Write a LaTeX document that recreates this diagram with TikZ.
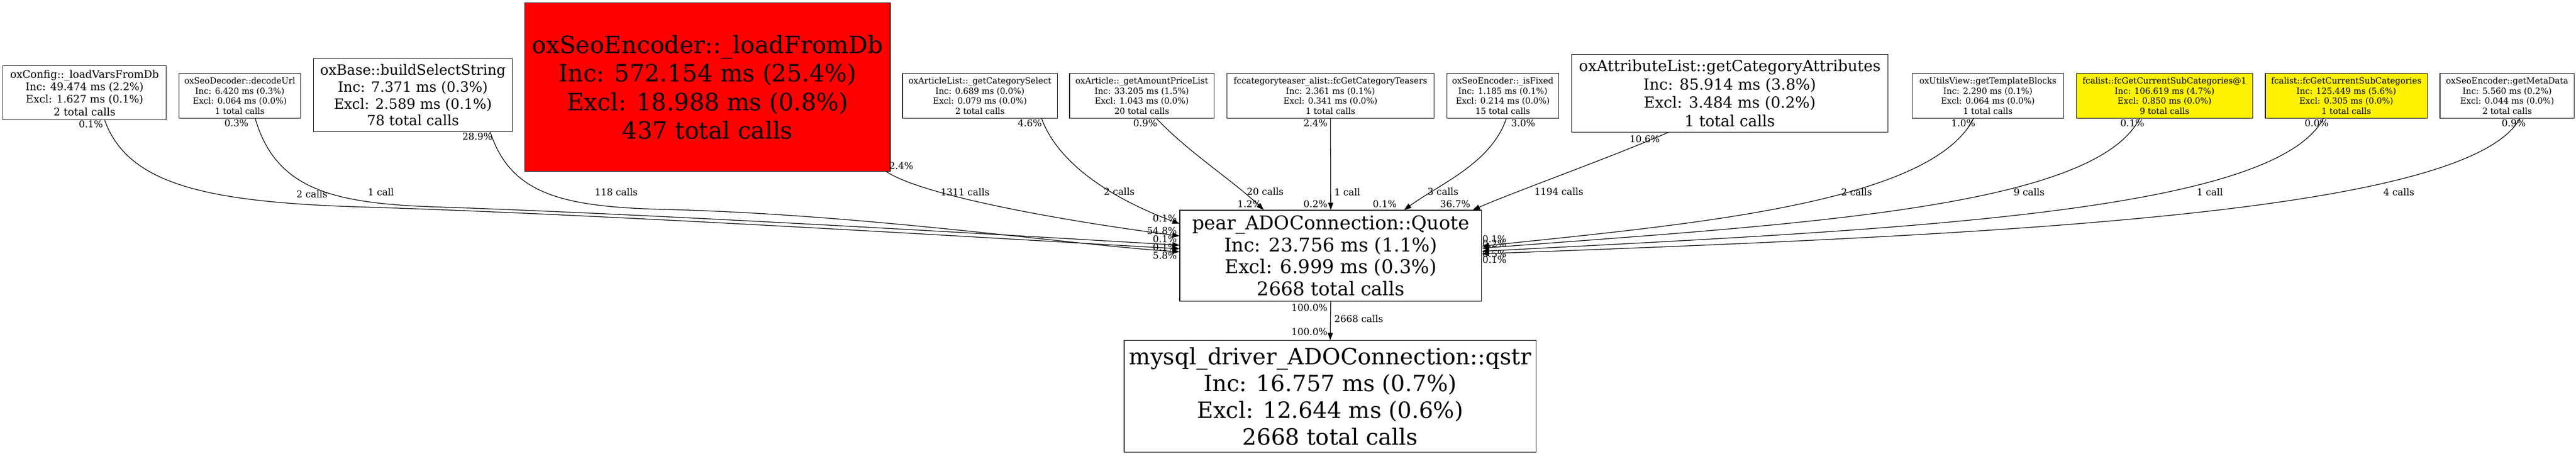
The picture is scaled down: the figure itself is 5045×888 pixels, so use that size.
\documentclass[tikz,border=0pt]{standalone}
\usepackage{fontspec}
\setmainfont{DejaVu Serif}
\usetikzlibrary{arrows.meta,calc}
\begin{document}
\begin{tikzpicture}[x=1pt,y=-1pt,
 box/.style={draw=black,line width=1.3pt,inner sep=0pt,align=center,anchor=north west},
 sm/.style={box,minimum height=88pt,font=\fontsize{16.4}{19.7}\selectfont},
 lab/.style={inner sep=0pt,font=\fontsize{18.5}{22}\selectfont},
 conn/.style={line width=1.3pt,-{Triangle[length=14pt,width=10pt]}}]
\fill[white] (0,0) rectangle (5045,888);
\useasboundingbox (0,0) rectangle (5045,888);
% nodes
\node[box,minimum width=320pt,minimum height=106pt,font=\fontsize{20.5}{24.6}\selectfont] (cfg) at (5,128) {oxConfig::\_loadVarsFromDb\\Inc: 49.474 ms (2.2\%)\\Excl: 1.627 ms (0.1\%)\\2 total calls};
\node[sm,minimum width=238pt] (dec) at (350,143) {oxSeoDecoder::decodeUrl\\Inc: 6.420 ms (0.3\%)\\Excl: 0.064 ms (0.0\%)\\1 total calls};
\node[box,minimum width=390pt,minimum height=143pt,font=\fontsize{27.6}{33}\selectfont] (base) at (613,114) {oxBase::buildSelectString\\Inc: 7.371 ms (0.3\%)\\Excl: 2.589 ms (0.1\%)\\78 total calls};
\node[box,fill=red,minimum width=716pt,minimum height=330pt,font=\fontsize{46.5}{56}\selectfont] (red) at (1027,5) {oxSeoEncoder::\_loadFromDb\\Inc: 572.154 ms (25.4\%)\\Excl: 18.988 ms (0.8\%)\\437 total calls};
\node[sm,minimum width=303pt] (artl) at (1767,143) {oxArticleList::\_getCategorySelect\\Inc: 0.689 ms (0.0\%)\\Excl: 0.079 ms (0.0\%)\\2 total calls};
\node[sm,minimum width=283pt] (art) at (2094,143) {oxArticle::\_getAmountPriceList\\Inc: 33.205 ms (1.5\%)\\Excl: 1.043 ms (0.0\%)\\20 total calls};
\node[sm,minimum width=406pt] (fcc) at (2402,143) {fccategoryteaser\_alist::fcGetCategoryTeasers\\Inc: 2.361 ms (0.1\%)\\Excl: 0.341 ms (0.0\%)\\1 total calls};
\node[sm,minimum width=219pt] (fix) at (2833,143) {oxSeoEncoder::\_isFixed\\Inc: 1.185 ms (0.1\%)\\Excl: 0.214 ms (0.0\%)\\15 total calls};
\node[box,minimum width=620pt,minimum height=152pt,font=\fontsize{30}{36}\selectfont] (attr) at (3077,106) {oxAttributeList::getCategoryAttributes\\Inc: 85.914 ms (3.8\%)\\Excl: 3.484 ms (0.2\%)\\1 total calls};
\node[sm,minimum width=297pt] (uv) at (3744,143) {oxUtilsView::getTemplateBlocks\\Inc: 2.290 ms (0.1\%)\\Excl: 0.064 ms (0.0\%)\\1 total calls};
\node[sm,fill=yellow,minimum width=345pt] (fc1) at (4066,143) {fcalist::fcGetCurrentSubCategories@1\\Inc: 106.619 ms (4.7\%)\\Excl: 0.850 ms (0.0\%)\\9 total calls};
\node[sm,fill=yellow,minimum width=317pt] (fc) at (4436,143) {fcalist::fcGetCurrentSubCategories\\Inc: 125.449 ms (5.6\%)\\Excl: 0.305 ms (0.0\%)\\1 total calls};
\node[sm,minimum width=263pt] (meta) at (4778,143) {oxSeoEncoder::getMetaData\\Inc: 5.560 ms (0.2\%)\\Excl: 0.044 ms (0.0\%)\\2 total calls};
\node[box,minimum width=591pt,minimum height=178pt,font=\fontsize{37}{43}\selectfont] (quote) at (2310,411) {pear\_ADOConnection::Quote\\Inc: 23.756 ms (1.1\%)\\Excl: 6.999 ms (0.3\%)\\2668 total calls};
\node[box,minimum width=807pt,minimum height=219pt,font=\fontsize{44}{52.7}\selectfont] (mysql) at (2201,666) {mysql\_driver\_ADOConnection::qstr\\Inc: 16.757 ms (0.7\%)\\Excl: 12.644 ms (0.6\%)\\2668 total calls};
% connectors
\draw[conn] ($(cfg.south west)+(200,0)$) .. controls (250,360) and (400,395) .. (700,405) .. controls (1200,420) and (2000,470) .. ($(quote.north west)+(0,76)$);
\draw[conn] ($(dec.south west)+(150,0)$) .. controls (540,370) and (650,398) .. (850,405) .. controls (1300,420) and (2000,462) .. ($(quote.north west)+(0,69)$);
\draw[conn] ($(base.south west)+(347,0)$) .. controls (1000,380) and (1100,405) .. (1300,410) .. controls (1700,420) and (2100,480) .. ($(quote.north west)+(0,82)$);
\draw[conn] ($(red.south east)+(-8,0)$) .. controls (1810,385) and (2100,435) .. ($(quote.north west)+(0,51)$);
\draw[conn] ($(artl.south west)+(273,0)$) .. controls (2080,340) and (2220,405) .. ($(quote.north west)+(0,27)$);
\draw[conn] ($(art.south west)+(171,0)$) .. controls (2330,300) and (2410,350) .. ($(quote.north west)+(165,0)$);
\draw[conn] (fcc.south) -- (quote.north);
\draw[conn] ($(fix.south west)+(117,0)$) .. controls (2920,320) and (2820,360) .. ($(quote.north west)+(440,0)$);
\draw[conn] ($(attr.south west)+(190,0)$) .. controls (3150,310) and (2980,370) .. ($(quote.north east)+(-18,0)$);
\draw[conn] ($(uv.south west)+(121,0)$) .. controls (3780,400) and (3300,440) .. ($(quote.north east)+(0,71)$);
\draw[conn] ($(fc1.south west)+(124,0)$) .. controls (4100,410) and (3500,440) .. ($(quote.north east)+(0,75)$);
\draw[conn] ($(fc.south west)+(114,0)$) .. controls (4450,420) and (3700,450) .. ($(quote.north east)+(0,81)$);
\draw[conn] ($(meta.south west)+(157,0)$) .. controls (4830,420) and (3900,460) .. ($(quote.north east)+(0,86)$);
\draw[conn] (quote.south) -- (mysql.north);
% tail labels
\node[lab] (t1) at (178,243) {0.1\%};
\node[lab] (t2) at (463,241) {0.3\%};
\node[lab] (t3) at (935,267) {28.9\%};
\node[lab] (t4) at (1765,325) {2.4\%};
\node[lab] (t5) at (2017,241) {4.6\%};
\node[lab] (t6) at (2243,241) {0.9\%};
\node[lab,anchor=east] (t7) at (2600,241) {2.4\%};
\node[lab] (t8) at (2983,241) {3.0\%};
\node[lab] (t9) at (3221,272) {10.6\%};
\node[lab] (t10) at (3845,241) {1.0\%};
\node[lab] (t11) at (4176,241) {0.1\%};
\node[lab] (t12) at (4537,241) {0.0\%};
\node[lab] (t13) at (4923,241) {0.9\%};
\node[lab,anchor=east] (t14) at (2600,602) {100.0\%};
% call labels
\node[lab] (c1) at (611,380) {2 calls};
\node[lab] (c2) at (746,376) {1 call};
\node[lab] (c3) at (1207,376) {118 calls};
\node[lab] (c4) at (1890,376) {1311 calls};
\node[lab] (c5) at (2192,375) {2 calls};
\node[lab] (c6) at (2478,375) {20 calls};
\node[lab,anchor=west] (c7) at (2613,376) {1 call};
\node[lab] (c8) at (2826,375) {3 calls};
\node[lab] (c9) at (3053,375) {1194 calls};
\node[lab] (c10) at (3636,376) {2 calls};
\node[lab] (c11) at (3974,376) {9 calls};
\node[lab] (c12) at (4328,376) {1 call};
\node[lab] (c13) at (4698,376) {4 calls};
\node[lab,anchor=west] (c14) at (2613,624) {2668 calls};
% head labels
\node[lab,anchor=east] (h5) at (2305,428) {0.1\%};
\node[lab,anchor=east] (h4) at (2305,452) {54.8\%};
\node[lab,anchor=east] (h2) at (2305,468) {0.1\%};
\node[lab,anchor=east] (h1) at (2305,484) {0.1\%};
\node[lab,anchor=east] (h3) at (2305,500) {5.8\%};
\node[lab] (h6) at (2447,399) {1.2\%};
\node[lab,anchor=east] (h7) at (2600,399) {0.2\%};
\node[lab] (h8) at (2712,399) {0.1\%};
\node[lab] (h9) at (2850,399) {36.7\%};
\node[lab,anchor=west] (h10) at (2903,468) {0.1\%};
\node[lab,anchor=west] (h13) at (2903,477) {0.2\%};
\node[lab,anchor=west] (h11) at (2903,497) {0.5\%};
\node[lab,anchor=west] (h12) at (2903,508) {0.1\%};
\node[lab,anchor=east] (h14) at (2600,650) {100.0\%};
\end{tikzpicture}
\end{document}
